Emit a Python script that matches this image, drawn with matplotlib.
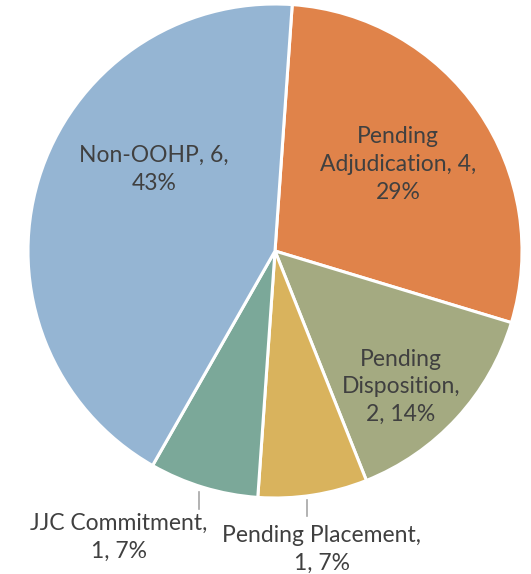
import matplotlib.pyplot as plt

# slice data, clockwise from top
categories = ["Pending Adjudication", "Pending Disposition", "Pending Placement",
              "JJC Commitment", "Non-OOHP"]
values = [4, 2, 1, 1, 6]
colors = ["#E0834A", "#A4AA81", "#D9B35D", "#7BA899", "#95B5D3"]

# label text with line breaks as in the original
total = sum(values)
pcts = [round(v * 100.0 / total) for v in values]
label_text = [
    "Pending\nAdjudication, %d,\n%d%%" % (values[0], pcts[0]),
    "Pending\nDisposition,\n%d, %d%%" % (values[1], pcts[1]),
    "Pending Placement,\n%d, %d%%" % (values[2], pcts[2]),
    "JJC Commitment,\n%d, %d%%" % (values[3], pcts[3]),
    "Non-OOHP, %d,\n%d%%" % (values[4], pcts[4]),
]
label_pos = [(0.498, 0.35), (0.51, -0.55), (0.19, -1.21), (-0.633, -1.16), (-0.49, 0.33)]

fig = plt.figure(figsize=(5.31, 5.74), dpi=100)
ax = fig.add_axes([0, 0, 1, 1])

ax.pie(values, colors=colors, startangle=86, counterclock=False, radius=1.0,
       wedgeprops=dict(edgecolor="white", linewidth=2.2))

for txt, (x, y) in zip(label_text, label_pos):
    ax.text(x, y, txt, ha="center", va="center", fontsize=16.5, color="#404040",
            family=["Lato", "DejaVu Sans"], linespacing=1.4)

# leader lines for the small outside labels
ax.plot([-0.306, -0.306], [-0.975, -1.045], color="#A6A6A6", lw=1.2)
ax.plot([0.131, 0.131], [-1.008, -1.073], color="#A6A6A6", lw=1.2)

ax.set_xlim(-275 / 247.0, (531 - 275) / 247.0)
ax.set_ylim((251 - 574) / 247.0, 251 / 247.0)
ax.set_aspect("equal")
ax.axis("off")

fig.savefig("out.png", dpi=100, facecolor="white")
